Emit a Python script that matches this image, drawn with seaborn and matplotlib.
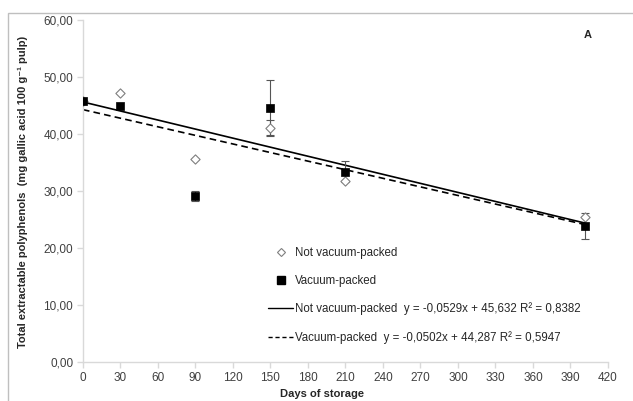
import numpy as np
import pandas as pd
import seaborn as sns
import matplotlib.pyplot as plt
from matplotlib.lines import Line2D
from matplotlib.patches import Rectangle

# values
days = [0, 30, 90, 150, 210, 402]
not_vacuum = [45.8, 47.2, 35.7, 41.1, 31.7, 25.4]
not_vacuum_err = [0.0, 0.0, 0.0, 1.4, 0.0, 0.0]
vacuum = [45.8, 45.0, 29.2, 44.6, 33.4, 23.9]
vacuum_err = [0.0, 0.0, 0.9, 4.8, 1.8, 2.3]

# trend lines as printed in the legend
slope_nv, icept_nv, r2_nv = -0.0529, 45.632, 0.8382
slope_v, icept_v, r2_v = -0.0502, 44.287, 0.5947
trend_x = [0, 402]

sns.set_style('white')
plt.rcParams['font.family'] = ['Liberation Sans', 'DejaVu Sans']

fig = plt.figure(figsize=(6.33, 4.01), dpi=100)
ax = fig.add_axes([0.131, 0.097, 0.8295, 0.853])

df = pd.DataFrame({'days': days, 'nv': not_vacuum, 'v': vacuum,
                   'nv_err': not_vacuum_err, 'v_err': vacuum_err})
trend = pd.DataFrame({'x': trend_x})
trend['nv'] = slope_nv * trend['x'] + icept_nv
trend['v'] = slope_v * trend['x'] + icept_v

sns.lineplot(data=trend, x='x', y='nv', ax=ax, color='black', lw=1.2)
sns.lineplot(data=trend, x='x', y='v', ax=ax, color='black', lw=1.2, linestyle=(0, (4, 2.5)))

# only the points that have visible error bars
ev = df[df['v_err'] > 0]
env = df[df['nv_err'] > 0]
ax.errorbar(ev['days'], ev['v'], yerr=ev['v_err'], fmt='none', ecolor='#555555', elinewidth=0.8, capsize=3, capthick=0.8)
ax.errorbar(env['days'], env['nv'], yerr=env['nv_err'], fmt='none', ecolor='#555555', elinewidth=0.8, capsize=3, capthick=0.8)

sns.scatterplot(data=df, x='days', y='nv', ax=ax, marker='D', s=22, color='white', edgecolor='#7f7f7f', linewidth=0.8, zorder=5)
sns.scatterplot(data=df, x='days', y='v', ax=ax, marker='s', s=38, color='black', edgecolor='black', linewidth=0.5, zorder=6)

ax.set_xlim(0, 420)
ax.set_ylim(0, 60)
ax.set_xticks(range(0, 421, 30))
ax.set_yticks(range(0, 61, 10))
ax.set_yticklabels([f'{v:.2f}'.replace('.', ',') for v in range(0, 61, 10)])

for s in ['top', 'right']:
    ax.spines[s].set_visible(False)
for s in ['left', 'bottom']:
    ax.spines[s].set_color('#d9d9d9')
    ax.spines[s].set_linewidth(1)
ax.tick_params(axis='both', direction='out', length=4, width=1, color='#d9d9d9',
               labelsize=8.5, labelcolor='#404040', pad=3, left=True, bottom=True)

ax.set_xlabel('Days of storage', fontsize=8, fontweight='bold')
ax.set_ylabel('Total extractable polyphenols  (mg gallic acid 100 g⁻¹ pulp)', fontsize=8, fontweight='bold')
ax.xaxis.set_label_coords(0.455, -0.078)
ax.yaxis.set_label_coords(-0.105, 0.497)

ax.text(0.962, 0.956, 'A', transform=ax.transAxes, fontsize=8, fontweight='bold', ha='center', va='center')

handles = [
    Line2D([], [], marker='D', ls='none', markersize=4, markerfacecolor='white', markeredgecolor='#7f7f7f', markeredgewidth=0.8),
    Line2D([], [], marker='s', ls='none', markersize=5.5, color='black'),
    Line2D([], [], color='black', lw=1),
    Line2D([], [], color='black', lw=1, linestyle=(0, (3, 2))),
]
labels = [
    'Not vacuum-packed',
    'Vacuum-packed',
    f'Not vacuum-packed  y = {slope_nv:.4f}x + {icept_nv:.3f} R² = {r2_nv:.4f}'.replace('.', ','),
    f'Vacuum-packed  y = {slope_v:.4f}x + {icept_v:.3f} R² = {r2_v:.4f}'.replace('.', ','),
]
ax.legend(handles, labels, loc='upper left', bbox_to_anchor=(268 / 633, 1 - 247 / 401),
          bbox_transform=fig.transFigure, frameon=False, fontsize=8.3, labelspacing=1.36,
          handlelength=2.2, handletextpad=0.15, borderpad=0, borderaxespad=0, labelcolor='#262626')

fig.patches.append(Rectangle((8 / 633, -0.2), 1.2, 1.2 - 13 / 401, transform=fig.transFigure,
                             fill=False, edgecolor='#bfbfbf', lw=1))

fig.savefig('out.png', dpi=100)
